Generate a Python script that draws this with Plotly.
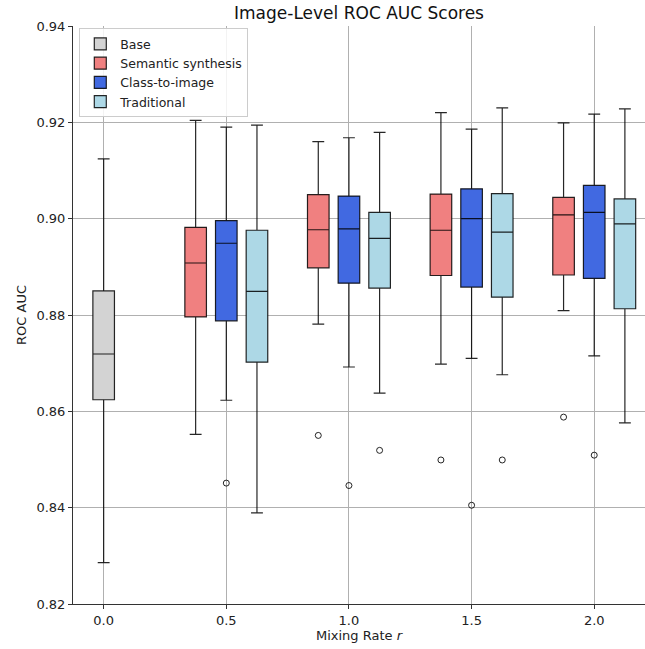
import plotly.graph_objects as go

# ---- data ----
rates = [0.5, 1.0, 1.5, 2.0]

base_stats = dict(lower=0.8286, q1=0.8624, median=0.8719, q3=0.8850, upper=0.9124)

sem_lower = [0.8552, 0.8781, 0.8698, 0.8809]
sem_q1 = [0.8796, 0.8898, 0.8882, 0.8883]
sem_median = [0.8908, 0.8977, 0.8976, 0.9008]
sem_q3 = [0.8982, 0.9050, 0.9051, 0.9044]
sem_upper = [0.9204, 0.9160, 0.9220, 0.9199]
sem_outliers = [None, 0.8550, 0.8499, 0.8588]

cls_lower = [0.8623, 0.8692, 0.8710, 0.8715]
cls_q1 = [0.8788, 0.8866, 0.8858, 0.8876]
cls_median = [0.8949, 0.8979, 0.9000, 0.9013]
cls_q3 = [0.8996, 0.9047, 0.9062, 0.9069]
cls_upper = [0.9190, 0.9168, 0.9186, 0.9217]
cls_outliers = [0.8451, 0.8446, 0.8405, 0.8509]

trd_lower = [0.8389, 0.8638, 0.8676, 0.8576]
trd_q1 = [0.8702, 0.8856, 0.8837, 0.8813]
trd_median = [0.8849, 0.8959, 0.8972, 0.8989]
trd_q3 = [0.8976, 0.9013, 0.9052, 0.9041]
trd_upper = [0.9194, 0.9179, 0.9230, 0.9228]
trd_outliers = [None, 0.8519, 0.8499, None]

x_ticks = [0.0, 0.5, 1.0, 1.5, 2.0]
y_ticks = [0.82, 0.84, 0.86, 0.88, 0.90, 0.92, 0.94]

# ---- styling ----
BOX_W = 0.088
OFFSET = 0.125
EDGE = "rgba(0,0,0,0.85)"
colors = {
    "Base": "#d3d3d3",
    "Semantic synthesis": "#f08080",
    "Class-to-image": "#4169e1",
    "Traditional": "#add8e6",
}

fig = go.Figure()


def add_box(name, xs, lo, q1, med, q3, hi):
    fig.add_trace(go.Box(
        name=name, x=xs, lowerfence=lo, q1=q1, median=med, q3=q3, upperfence=hi,
        fillcolor=colors[name], line=dict(color=EDGE, width=1.2),
        width=BOX_W, whiskerwidth=0.55, boxpoints=False, showlegend=True,
    ))


def add_outliers(xs, vals):
    ox = [x for x, v in zip(xs, vals) if v is not None]
    oy = [v for v in vals if v is not None]
    fig.add_trace(go.Scatter(
        x=ox, y=oy, mode="markers", showlegend=False, hoverinfo="skip",
        marker=dict(symbol="circle-open", size=6, color="rgba(0,0,0,0.85)",
                    line=dict(width=1)),
    ))


add_box("Base", [0.0], [base_stats["lower"]], [base_stats["q1"]],
        [base_stats["median"]], [base_stats["q3"]], [base_stats["upper"]])

sem_x = [r - OFFSET for r in rates]
cls_x = [r for r in rates]
trd_x = [r + OFFSET for r in rates]

add_box("Semantic synthesis", sem_x, sem_lower, sem_q1, sem_median, sem_q3, sem_upper)
add_box("Class-to-image", cls_x, cls_lower, cls_q1, cls_median, cls_q3, cls_upper)
add_box("Traditional", trd_x, trd_lower, trd_q1, trd_median, trd_q3, trd_upper)

add_outliers(sem_x, sem_outliers)
add_outliers(cls_x, cls_outliers)
add_outliers(trd_x, trd_outliers)

W, H = 645, 649
L, R, T, B = 73, 0, 26, 45

axis_common = dict(
    showgrid=True, gridcolor="#b0b0b0", gridwidth=1,
    ticks="outside", ticklen=4, tickcolor="#333",
    tickfont=dict(size=13, color="#222"),
    zeroline=False,
)

fig.update_layout(
    width=W, height=H,
    margin=dict(l=L, r=R, t=T, b=B, pad=0),
    paper_bgcolor="white", plot_bgcolor="white",
    font=dict(family="DejaVu Sans", color="#222"),
    boxmode="overlay",
    title=dict(text="Image-Level ROC AUC Scores", x=(L + (W - R)) / 2 / W, xanchor="center",
               y=1 - 13 / H, yanchor="middle", yref="container",
               font=dict(size=17, color="#111")),
    legend=dict(x=0.011, y=0.996, xanchor="left", yanchor="top",
                bgcolor="rgba(255,255,255,0.85)", bordercolor="#cccccc", borderwidth=1,
                font=dict(size=12.5), tracegroupgap=0, itemwidth=30),
    xaxis=dict(range=[-0.125, 2.207], tickvals=x_ticks,
               ticktext=[f"{v:.1f}" for v in x_ticks],
               showline=True, linecolor="#333", linewidth=1,
               title=dict(text="Mixing Rate <i>r</i>", font=dict(size=13), standoff=4),
               **axis_common),
    yaxis=dict(range=[0.82, 0.94], tickvals=y_ticks,
               ticktext=[f"{v:.2f}" for v in y_ticks],
               showline=True, linecolor="#333", linewidth=1,
               title=dict(text="ROC AUC", font=dict(size=13), standoff=6),
               **axis_common),
)

fig.write_html(
    "out.html",
    config={"displayModeBar": False},
    post_script="document.body.style.margin='0';document.body.style.overflow='hidden';",
)
